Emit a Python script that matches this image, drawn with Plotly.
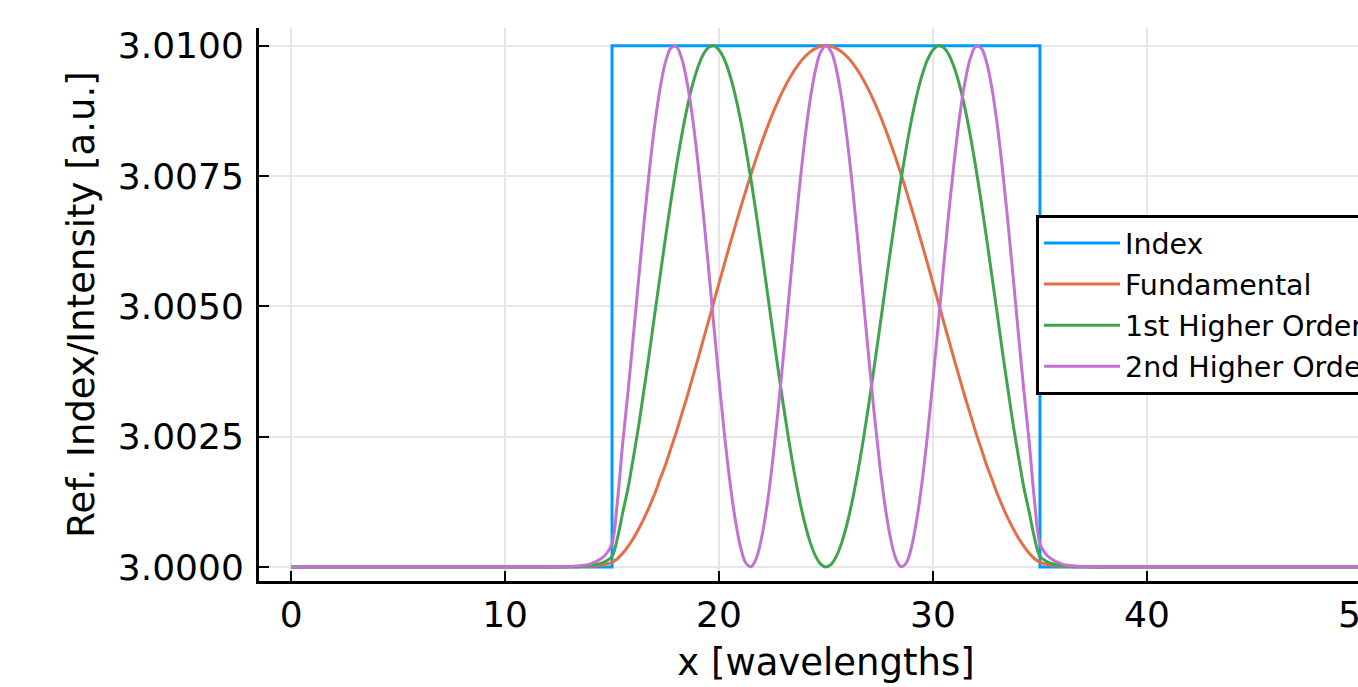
import plotly.graph_objects as go

# ---------------- data ----------------
index_x = [0, 15, 15, 35, 35, 50]
index_y = [3.0, 3.0, 3.01, 3.01, 3.0, 3.0]

mode_x = [0, 12, 12.5, 13, 13.5, 14, 14.5, 14.75,
          15, 15.25, 15.5, 15.75, 16, 16.25, 16.5, 16.75, 17, 17.25, 17.5, 17.75,
          18, 18.25, 18.5, 18.75, 19, 19.25, 19.5, 19.75, 20, 20.25, 20.5, 20.75,
          21, 21.25, 21.5, 21.75, 22, 22.25, 22.5, 22.75, 23, 23.25, 23.5, 23.75,
          24, 24.25, 24.5, 24.75, 25,
          25.25, 25.5, 25.75, 26, 26.25, 26.5, 26.75, 27, 27.25, 27.5, 27.75,
          28, 28.25, 28.5, 28.75, 29, 29.25, 29.5, 29.75, 30, 30.25, 30.5, 30.75,
          31, 31.25, 31.5, 31.75, 32, 32.25, 32.5, 32.75, 33, 33.25, 33.5, 33.75,
          34, 34.25, 34.5, 34.75, 35,
          35.25, 35.5, 36, 36.5, 37, 37.5, 38, 50]

fundamental_y = [3.0, 3.0, 3.000001, 3.000002, 3.000005, 3.000013, 3.000035, 3.000055,
                 3.00009, 3.000157, 3.000263, 3.000395, 3.000552, 3.000734, 3.000937,
                 3.001162, 3.001409, 3.00169, 3.001961, 3.002275, 3.002581, 3.002922,
                 3.003256, 3.003613, 3.003968, 3.004336, 3.004703, 3.005073, 3.005446,
                 3.00581, 3.006175, 3.00653, 3.006879, 3.007216, 3.007543, 3.007854,
                 3.00815, 3.008429, 3.008689, 3.008929, 3.009147, 3.009342, 3.009514,
                 3.009661, 3.009782, 3.009877, 3.009945, 3.009986, 3.01,
                 3.009986, 3.009945, 3.009877, 3.009782, 3.009661, 3.009514, 3.009342,
                 3.009147, 3.008929, 3.008689, 3.008429, 3.00815, 3.007854, 3.007543,
                 3.007216, 3.006879, 3.00653, 3.006175, 3.00581, 3.005446, 3.005073,
                 3.004703, 3.004336, 3.003968, 3.003613, 3.003256, 3.002922, 3.002581,
                 3.002275, 3.001961, 3.00169, 3.001409, 3.001162, 3.000937, 3.000734,
                 3.000552, 3.000395, 3.000263, 3.000157, 3.00009,
                 3.000055, 3.000035, 3.000013, 3.000005, 3.000002, 3.000001, 3.0, 3.0]

first_order_y = [3.0, 3.0, 3.000001, 3.000004, 3.00001, 3.000027, 3.000072, 3.00012,
                 3.0002, 3.00055, 3.001044, 3.001517, 3.002105, 3.002722, 3.003415,
                 3.004118, 3.004864, 3.005592, 3.006322, 3.007015, 3.007668, 3.008264,
                 3.008788, 3.009228, 3.009571, 3.009823, 3.009964, 3.009998, 3.009919,
                 3.009737, 3.009448, 3.009063, 3.008588, 3.008033, 3.007419, 3.00674,
                 3.006032, 3.005297, 3.004554, 3.003826, 3.003121, 3.002458, 3.00185,
                 3.001311, 3.000853, 3.000486, 3.000218, 3.000055, 3.0,
                 3.000055, 3.000218, 3.000486, 3.000853, 3.001311, 3.00185, 3.002458,
                 3.003121, 3.003826, 3.004554, 3.005297, 3.006032, 3.00674, 3.007419,
                 3.008033, 3.008588, 3.009063, 3.009448, 3.009737, 3.009919, 3.009998,
                 3.009964, 3.009823, 3.009571, 3.009228, 3.008788, 3.008264, 3.007668,
                 3.007015, 3.006322, 3.005592, 3.004864, 3.004118, 3.003415, 3.002722,
                 3.002105, 3.001517, 3.001044, 3.00055, 3.0002,
                 3.00012, 3.000072, 3.000027, 3.00001, 3.000004, 3.000001, 3.0, 3.0]

second_order_y = [3.0, 3.000001, 3.000003, 3.000008, 3.000022, 3.00006, 3.00016, 3.00026,
                  3.00045, 3.00125, 3.002379, 3.003367, 3.004443, 3.00555, 3.006624,
                  3.007625, 3.008495, 3.009195, 3.009689, 3.009956, 3.009981, 3.009763,
                  3.009312, 3.008656, 3.00781, 3.006847, 3.005784, 3.004664, 3.003583,
                  3.002559, 3.001664, 3.000929, 3.000391, 3.000078, 3.000005, 3.000175,
                  3.000581, 3.0012, 3.002005, 3.002959, 3.004012, 3.00511, 3.006204,
                  3.00724, 3.008166, 3.008938, 3.009518, 3.009878, 3.01,
                  3.009878, 3.009518, 3.008938, 3.008166, 3.00724, 3.006204, 3.00511,
                  3.004012, 3.002959, 3.002005, 3.0012, 3.000581, 3.000175, 3.000005,
                  3.000078, 3.000391, 3.000929, 3.001664, 3.002559, 3.003583, 3.004664,
                  3.005784, 3.006847, 3.00781, 3.008656, 3.009312, 3.009763, 3.009981,
                  3.009956, 3.009689, 3.009195, 3.008495, 3.007625, 3.006624, 3.00555,
                  3.004443, 3.003367, 3.002379, 3.00125, 3.00045,
                  3.00026, 3.00016, 3.00006, 3.000022, 3.000008, 3.000003, 3.000001, 3.0]

series_names = ["Index", "Fundamental", "1st Higher Order", "2nd Higher Order"]
series_colors = ["#009AFA", "#E36F47", "#3EA44E", "#C371D2"]

x_ticks = [0, 10, 20, 30, 40, 50]
y_ticks = [3.0, 3.0025, 3.005, 3.0075, 3.01]
y_tick_labels = ["3.0000", "3.0025", "3.0050", "3.0075", "3.0100"]

for ys in (fundamental_y, first_order_y, second_order_y):
    assert len(ys) == len(mode_x), (len(ys), len(mode_x))

# ---------------- figure ----------------
FONT = "DejaVu Sans"
fig = go.Figure()

fig.add_trace(go.Scatter(x=index_x, y=index_y, mode="lines", name=series_names[0],
                         legendgroup="g0",
                         line=dict(color=series_colors[0], width=3)))
for i, ys in enumerate([fundamental_y, first_order_y, second_order_y], start=1):
    fig.add_trace(go.Scatter(x=mode_x, y=ys, mode="lines", name=series_names[i],
                             legendgroup="g%d" % i,
                             line=dict(color=series_colors[i], width=3,
                                       shape="spline", smoothing=1.0)))

W, H = 1410, 687
ML, MR, MT, MB = 259, 17, 28, 106
pw = W - ML - MR
ph = H - MT - MB

fig.update_layout(
    width=W, height=H,
    margin=dict(l=ML, r=MR, t=MT, b=MB, pad=0),
    paper_bgcolor="white", plot_bgcolor="white",
    font=dict(family=FONT, color="black"),
    showlegend=True,
    legend=dict(
        x=(1036 - ML) / pw, y=(H - MB - 215) / ph,
        xanchor="left", yanchor="top",
        bgcolor="white", bordercolor="black", borderwidth=3,
        font=dict(family=FONT, size=28.5, color="black"),
        tracegroupgap=1,
        itemwidth=76,
    ),
)

fig.update_xaxes(
    range=[-1.5, 51.5], tickvals=x_ticks, ticktext=[str(v) for v in x_ticks],
    showgrid=True, gridcolor="#e6e6e6", gridwidth=2,
    zeroline=False, showline=True, linecolor="black", linewidth=3,
    ticks="inside", ticklen=10, tickwidth=2, tickcolor="black",
    tickfont=dict(family=FONT, size=36, color="black"),
    ticklabelstandoff=0,
    title=dict(text="x [wavelengths]", font=dict(family=FONT, size=37, color="black"),
               standoff=15),
    automargin=False,
)
fig.update_yaxes(
    range=[2.99973, 3.01034], tickvals=y_ticks, ticktext=y_tick_labels,
    showgrid=True, gridcolor="#e6e6e6", gridwidth=2,
    zeroline=False, showline=True, linecolor="black", linewidth=3,
    ticks="inside", ticklen=10, tickwidth=2, tickcolor="black",
    tickfont=dict(family=FONT, size=36, color="black"),
    ticklabelstandoff=5,
    title=dict(text="Ref. Index/Intensity [a.u.]", font=dict(family=FONT, size=37, color="black"),
               standoff=12),
    automargin=False,
)

fig.write_html(
    "out.html",
    post_script="document.documentElement.style.overflow='hidden';"
                "document.body.style.overflow='hidden';document.body.style.margin='0';",
)
